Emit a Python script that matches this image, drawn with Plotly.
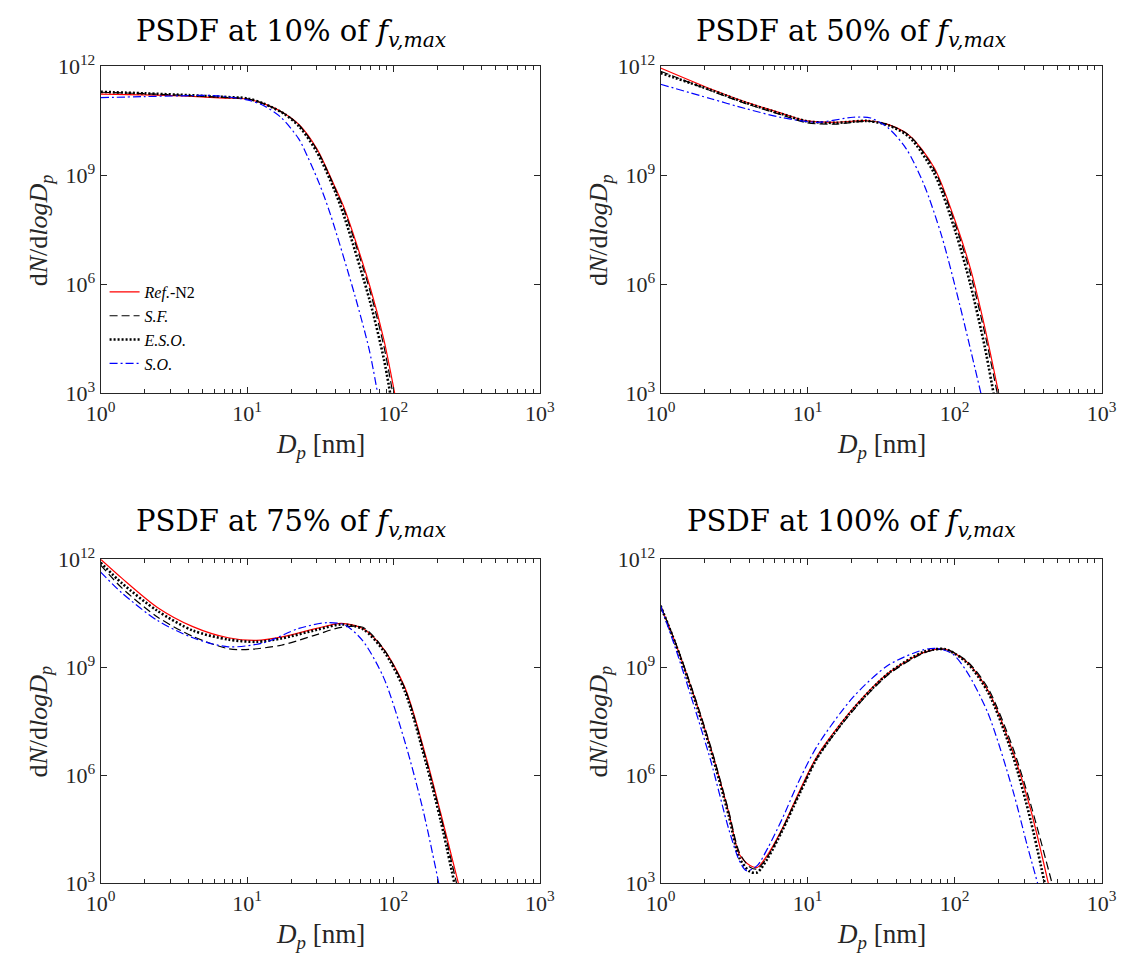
import plotly.graph_objects as go

# ---------------- data ----------------
# Panel 1: PSDF at 10% of f_v,max
p10_ref_dp = [1, 2, 4, 7, 10, 13, 18, 22.7, 30, 39.5, 46.7, 69, 86, 102]
p10_ref_n = [1.74e11, 1.66e11, 1.51e11, 1.35e11, 1.26e11, 9.5e10, 5.1e10, 2.5e10, 5.4e9, 5.2e8, 1.1e8, 8.9e5, 3.0e4, 1.0e3]
p10_sf_dp = [1, 2, 4, 7, 10, 13, 18, 22.7, 30, 39.5, 46.7, 69, 86, 99]
p10_sf_n = [1.95e11, 1.78e11, 1.58e11, 1.41e11, 1.29e11, 9.5e10, 5.0e10, 2.4e10, 5.1e9, 4.8e8, 9.5e7, 6.8e5, 2.0e4, 1.0e3]
p10_eso_dp = [1, 2, 4, 7, 10, 13, 18, 22.7, 30, 39.5, 46.7, 69, 86, 95]
p10_eso_n = [2.0e11, 1.82e11, 1.62e11, 1.45e11, 1.32e11, 9.5e10, 4.9e10, 2.24e10, 4.4e9, 4.0e8, 6.3e7, 3.5e5, 8.9e3, 1.0e3]
p10_so_dp = [1, 2, 3.5, 5.9, 10, 13, 17, 22.6, 26, 31.4, 37.1, 54.8, 68.3, 78]
p10_so_n = [1.38e11, 1.48e11, 1.55e11, 1.58e11, 1.2e11, 8.3e10, 4.0e10, 1.0e10, 3.2e9, 5.5e8, 8.5e7, 4.6e5, 1.6e4, 1.0e3]

# Panel 2: PSDF at 50% of f_v,max
p50_ref_dp = [1, 2.2, 3.8, 6.7, 9.9, 15.4, 25.5, 35.5, 49.6, 73, 102, 128, 160, 199.5]
p50_ref_n = [9.1e11, 2.4e11, 1.05e11, 5.1e10, 3.16e10, 2.9e10, 3.2e10, 2.5e10, 1.23e10, 1.58e9, 4.9e7, 2.75e6, 6.9e4, 1.0e3]
p50_sf_dp = [1, 2.2, 3.8, 6.7, 9.9, 15.4, 25.5, 35.5, 49.6, 73, 102, 128, 160, 195]
p50_sf_n = [7.4e11, 2.14e11, 9.5e10, 4.6e10, 2.8e10, 2.6e10, 3.1e10, 2.5e10, 1.23e10, 1.4e9, 4.0e7, 2.0e6, 4.7e4, 1.0e3]
p50_eso_dp = [1, 2.2, 3.8, 6.7, 9.9, 15.4, 25.5, 35.5, 49.6, 73, 102, 128, 160, 184]
p50_eso_n = [6.6e11, 2.24e11, 1.0e11, 4.9e10, 3.1e10, 2.8e10, 3.16e10, 2.4e10, 1.1e10, 1.1e9, 2.6e7, 1.0e6, 2.0e4, 1.0e3]
p50_so_dp = [1, 2.2, 3.8, 6.7, 11.7, 20.4, 26.9, 35.5, 46.9, 61.9, 81.8, 108, 151]
p50_so_n = [3.24e11, 1.29e11, 6.9e10, 3.9e10, 2.9e10, 4.0e10, 3.8e10, 2.0e10, 5.4e9, 5.6e8, 2.1e7, 2.9e5, 1.0e3]

# Panel 3: PSDF at 75% of f_v,max
p75_ref_dp = [1, 1.4, 2.44, 4.26, 7.43, 11.6, 17.1, 29.9, 44, 61.8, 86, 120, 168, 210, 278]
p75_ref_n = [1.0e12, 2.95e11, 4.6e10, 1.35e10, 6.6e9, 5.6e9, 6.9e9, 1.2e10, 1.66e10, 1.2e10, 3.16e9, 2.7e8, 2.95e6, 9.1e4, 1.0e3]
p75_sf_dp = [1, 1.4, 2.44, 4.26, 7.43, 9.8, 17.1, 29.9, 44, 61.8, 86, 120, 168, 210, 270]
p75_sf_n = [6.9e11, 1.58e11, 2.5e10, 7.2e9, 3.3e9, 3.1e9, 4.1e9, 8.1e9, 1.29e10, 1.29e10, 3.16e9, 2.5e8, 2.5e6, 7.6e4, 1.0e3]
p75_eso_dp = [1, 1.4, 2.44, 4.26, 7.43, 11.6, 17.1, 29.9, 44, 61.8, 86, 120, 168, 210, 261]
p75_eso_n = [8.1e11, 2.14e11, 3.7e10, 1.05e10, 5.9e9, 5.1e9, 6.3e9, 1.1e10, 1.55e10, 1.15e10, 2.8e9, 2.1e8, 2.0e6, 5.6e4, 1.0e3]
p75_so_dp = [1, 1.4, 2.44, 4.26, 7.43, 13, 22.6, 35.4, 46.8, 61.8, 86, 120, 159, 204]
p75_so_n = [4.4e11, 1.15e11, 2.0e10, 6.6e9, 3.7e9, 4.8e9, 1.2e10, 1.74e10, 1.48e10, 5.4e9, 5.0e8, 8.3e6, 1.12e5, 1.0e3]

# Panel 4: PSDF at 100% of f_v,max
p100_ref_dp = [1, 1.26, 1.67, 2.2, 2.91, 3.44, 4.06, 4.54, 5.36, 6.7, 8.85, 11.7, 20.4, 35.5, 62, 86.5, 121, 169, 249, 329, 434]
p100_ref_n = [5.1e10, 4.8e9, 1.82e8, 5.5e6, 9.1e4, 6.3e3, 3.1e3, 2.75e3, 6.3e3, 3.2e4, 3.8e5, 3.6e6, 7.2e7, 6.9e8, 2.6e9, 3.16e9, 1.41e9, 2.24e8, 4.5e6, 1.12e5, 1.0e3]
p100_sf_dp = [1, 1.26, 1.67, 2.2, 2.91, 3.44, 4.06, 4.54, 5.36, 6.7, 8.85, 11.7, 20.4, 35.5, 62, 86.5, 121, 169, 249, 329, 460]
p100_sf_n = [5.1e10, 5.0e9, 2.0e8, 6.0e6, 1.0e5, 7.1e3, 2.8e3, 2.5e3, 5.6e3, 3.0e4, 3.4e5, 3.16e6, 6.3e7, 6.3e8, 2.5e9, 3.16e9, 1.5e9, 2.6e8, 5.8e6, 1.58e5, 1.0e3]
p100_eso_dp = [1, 1.26, 1.67, 2.2, 2.91, 3.44, 4.06, 4.54, 5.36, 6.7, 8.85, 11.7, 20.4, 35.5, 62, 86.5, 121, 169, 249, 329, 410]
p100_eso_n = [5.1e10, 4.6e9, 1.66e8, 4.8e6, 7.6e4, 5.0e3, 2.1e3, 2.0e3, 5.0e3, 2.8e4, 3.16e5, 3.16e6, 6.8e7, 6.8e8, 2.7e9, 3.16e9, 1.35e9, 2.0e8, 3.5e6, 5.6e4, 1.0e3]
p100_so_dp = [1, 1.26, 1.67, 2.2, 2.91, 3.44, 3.84, 4.54, 5.36, 6.7, 8.85, 11.7, 20.4, 35.5, 62, 77, 97, 121, 169, 249, 311, 367]
p100_so_n = [5.1e10, 3.5e9, 9.8e7, 2.45e6, 3.2e4, 4.2e3, 2.24e3, 3.1e3, 9.5e3, 6.0e4, 7.8e5, 6.8e6, 1.48e8, 1.15e9, 3.1e9, 3.3e9, 2.34e9, 7.6e8, 5.2e7, 3.8e5, 1.17e4, 1.0e3]

panel_titles = ["10%", "50%", "75%", "100%"]
series_names = ["<i>Ref.</i>-N2", "<i>S.F.</i>", "<i>E.S.O.</i>", "<i>S.O.</i>"]
x_tick_vals = [1, 10, 100, 1000]
x_tick_text = ["10<sup>0</sup>", "10<sup>1</sup>", "10<sup>2</sup>", "10<sup>3</sup>"]
y_tick_vals = [1e3, 1e6, 1e9, 1e12]
y_tick_text = ["10<sup>3</sup>", "10<sup>6</sup>", "10<sup>9</sup>", "10<sup>12</sup>"]
x_minor_vals = [m * d for d in (1, 10, 100) for m in range(2, 10)]

panels = [
    [(p10_ref_dp, p10_ref_n), (p10_sf_dp, p10_sf_n), (p10_eso_dp, p10_eso_n), (p10_so_dp, p10_so_n)],
    [(p50_ref_dp, p50_ref_n), (p50_sf_dp, p50_sf_n), (p50_eso_dp, p50_eso_n), (p50_so_dp, p50_so_n)],
    [(p75_ref_dp, p75_ref_n), (p75_sf_dp, p75_sf_n), (p75_eso_dp, p75_eso_n), (p75_so_dp, p75_so_n)],
    [(p100_ref_dp, p100_ref_n), (p100_sf_dp, p100_sf_n), (p100_eso_dp, p100_eso_n), (p100_so_dp, p100_so_n)],
]

# ---------------- styling ----------------
W, H = 1140, 971
FONT = "Liberation Serif"
TFONT = "DejaVu Serif"
styles = [
    dict(color="#ff0000", width=1.2, dash="solid"),
    dict(color="#000000", width=1.2, dash="8px,4px"),
    dict(color="#000000", width=2.6, dash="2px,2px"),
    dict(color="#0000ff", width=1.2, dash="8px,3px,2px,3px"),
]

xdom = [(88 / W, 539 / W), (663 / W, 1116 / W)]
ydom = [(1 - 389 / H, 1 - 52 / H), (1 - 894 / H, 1 - 560 / H)]

fig = go.Figure()
layout = dict(
    width=W, height=H,
    margin=dict(l=0, r=0, t=0, b=0),
    paper_bgcolor="white", plot_bgcolor="white",
    font=dict(family=FONT),
    showlegend=True,
    legend=dict(x=92 / W, y=1 - 267 / H, xanchor="left", yanchor="top",
                bgcolor="rgba(0,0,0,0)", font=dict(family=FONT, size=16, color="#000"),
                tracegroupgap=0, itemwidth=30),
)
annotations = []

for i, series in enumerate(panels):
    r, c = divmod(i, 2)
    ax = "" if i == 0 else str(i + 1)
    for j, (dp, n) in enumerate(series):
        fig.add_trace(go.Scatter(
            x=dp, y=n, mode="lines", name=series_names[j],
            line=dict(shape="spline", smoothing=0.8, **styles[j]),
            xaxis="x" + ax, yaxis="y" + ax,
            showlegend=(i == 0), legendgroup=str(j),
        ))
    axis_common = dict(
        showgrid=False, zeroline=False, showline=True, linecolor="#262626", linewidth=1,
        mirror="ticks", ticks="inside", tickcolor="#262626", ticklen=6, tickwidth=1,
        tickfont=dict(family=FONT, size=22, color="#262626"),
    )
    layout["xaxis" + ax] = dict(
        axis_common, type="log", range=[0, 3], domain=xdom[c], anchor="y" + ax,
        tickmode="array", tickvals=x_tick_vals, ticktext=x_tick_text,
        minor=dict(tickmode="array", tickvals=x_minor_vals, ticks="inside", ticklen=4,
                   tickcolor="#262626", tickwidth=1),
    )
    layout["yaxis" + ax] = dict(
        axis_common, type="log", range=[3, 12], domain=ydom[r], anchor="x" + ax,
        tickmode="array", tickvals=y_tick_vals, ticktext=y_tick_text,
    )
    xc = (xdom[c][0] + xdom[c][1]) / 2
    title_y = [1 - 18 / H, 1 - 523 / H][r]
    annotations.append(dict(
        text="PSDF at " + panel_titles[i] + " of <i>f</i><sub><i>v,max</i></sub>",
        x=xc - 30 / W, y=title_y, xref="paper", yref="paper", xanchor="center", yanchor="middle",
        height=34, valign="middle",
        showarrow=False, font=dict(family=TFONT, size=29, color="#000"),
    ))
    xlab_y = [1 - 443 / H, 1 - 948 / H][r]
    annotations.append(dict(
        text="<i>D</i><sub><i>p</i></sub> [nm]",
        x=xc, y=xlab_y, xref="paper", yref="paper", xanchor="center", yanchor="middle",
        showarrow=False, font=dict(family=FONT, size=27, color="#262626"),
    ))
    ylab_x = [26 / W, 601 / W][c]
    yc = (ydom[r][0] + ydom[r][1]) / 2
    annotations.append(dict(
        text="d<i>N</i>/d<i>logD</i><sub><i>p</i></sub>",
        x=ylab_x, y=yc, xref="paper", yref="paper", xanchor="center", yanchor="middle",
        textangle=-90, showarrow=False, font=dict(family=FONT, size=26, color="#262626"),
    ))

layout["annotations"] = annotations
fig.update_layout(**layout)
fig.write_html("out.html")
